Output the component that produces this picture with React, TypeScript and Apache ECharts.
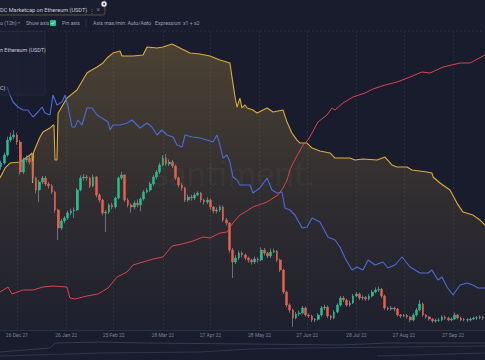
import React, { useEffect, useRef } from "react";
import * as echarts from "echarts";

// ---- x axis (days since 26 Dec 2021) ----
const tickDays = [0, 31, 61, 92, 122, 153, 183, 214, 244, 275];
const tickLabels = ["26 Dec 21", "26 Jan 22", "25 Feb 22", "28 Mar 22", "27 Apr 22", "28 May 22", "27 Jun 22", "28 Jul 22", "27 Aug 22", "27 Sep 22"];
const xMinDay = -10.72;
const xMaxDay = 295.17;

// ---- ETH candles (2-day, USD) ----
const candleStartDay = -10;
const candleStepDays = 2;
const candleFirstOpen = 3250;
const candleClose = [
  3305, 3425, 3650, 3695, 3725, 3620, 3170, 3350, 3380, 3320,
  3080, 2900, 3020, 3080, 2990, 2960, 2870, 2600, 2330, 2435,
  2480, 2555, 2585, 2600, 2900, 3080, 3095, 3080, 2960, 3095,
  2825, 2750, 2555, 2570, 2675, 2645, 2780, 3080, 3125, 2750,
  2675, 2645, 2705, 2675, 2765, 2870, 2900, 2990, 3095, 3170,
  3275, 3380, 3290, 3320, 3260, 3080, 2975, 2930, 2750, 2795,
  2780, 2825, 2855, 2750, 2720, 2750, 2645, 2585, 2600, 2645,
  2450, 2405, 2000, 1820, 1880, 1955, 1925, 1880, 1850, 1820,
  1865, 1850, 2000, 1955, 1910, 1970, 1985, 1850, 1700, 1370,
  1175, 1100, 980, 1040, 1055, 1130, 1025, 1010, 950, 960,
  1025, 1130, 1145, 1010, 980, 1070, 1175, 1280, 1250, 1175,
  1205, 1310, 1340, 1280, 1290, 1265, 1310, 1370, 1400, 1410,
  1310, 1130, 1115, 1130, 1115, 1025, 1010, 1020, 995, 950,
  1025, 1100, 1190, 1025, 995, 965, 935, 945, 950, 995,
  980, 950, 965, 1025, 980, 950, 955, 950, 965, 980,
  985, 995, 980, 990,
];
const candleLow = [
  3200, 3280, 3400, 3620, 3660, 3580, 3130, 3140, 3310, 3280,
  3040, 2850, 2720, 2990, 2960, 2920, 2840, 2560, 2150, 2300,
  2400, 2450, 2520, 2480, 2580, 2880, 3040, 3040, 2930, 2940,
  2790, 2710, 2520, 2270, 2540, 2610, 2620, 2760, 3050, 2720,
  2640, 2560, 2610, 2640, 2580, 2740, 2850, 2870, 2960, 3060,
  3140, 3250, 3260, 3260, 3230, 3050, 2940, 2890, 2720, 2720,
  2740, 2750, 2800, 2710, 2680, 2690, 2600, 2550, 2550, 2570,
  2420, 2370, 1960, 1580, 1790, 1850, 1890, 1850, 1810, 1780,
  1790, 1810, 1830, 1920, 1880, 1880, 1950, 1820, 1670, 1340,
  1140, 1060, 845, 960, 1010, 1030, 1000, 980, 920, 920,
  940, 1000, 1100, 980, 950, 960, 1050, 1150, 1220, 1150,
  1150, 1190, 1290, 1250, 1250, 1240, 1240, 1290, 1350, 1370,
  1280, 1100, 1090, 1090, 1080, 1000, 980, 990, 970, 920,
  930, 1000, 1080, 1000, 970, 940, 910, 910, 920, 930,
  950, 930, 930, 950, 960, 930, 930, 920, 930, 950,
  950, 960, 950, 960,
];
const candleHigh = [
  3340, 3460, 3700, 3760, 3800, 3760, 3650, 3390, 3420, 3410,
  3340, 3100, 3050, 3110, 3110, 3020, 2990, 2890, 2620, 2470,
  2510, 2590, 2620, 2640, 2930, 3120, 3140, 3130, 3100, 3130,
  3110, 2850, 2770, 2600, 2700, 2710, 2800, 3100, 3170, 3140,
  2780, 2700, 2740, 2760, 2790, 2900, 2930, 3020, 3130, 3200,
  3310, 3425, 3440, 3360, 3350, 3280, 3100, 3000, 2950, 2830,
  2830, 2860, 2880, 2870, 2770, 2790, 2770, 2660, 2640, 2670,
  2670, 2480, 2420, 2030, 1920, 1990, 1980, 1950, 1900, 1870,
  1900, 1890, 2040, 2030, 1970, 2020, 2020, 2000, 1870, 1720,
  1390, 1200, 1120, 1070, 1090, 1160, 1150, 1050, 1030, 980,
  1050, 1160, 1180, 1170, 1030, 1100, 1200, 1310, 1310, 1270,
  1240, 1340, 1370, 1360, 1320, 1310, 1340, 1400, 1440, 1450,
  1430, 1330, 1150, 1160, 1150, 1130, 1040, 1040, 1040, 1010,
  1050, 1130, 1250, 1210, 1040, 1010, 980, 970, 980, 1020,
  1020, 1000, 990, 1060, 1040, 1000, 980, 980, 990, 1000,
  1010, 1020, 1010, 1010,
];

// ---- USDC marketcap on Ethereum (billions) [day, value] ----
const usdcMarketcap = [
  [-10.7, 40.2], [-7.5, 40.87], [-4.4, 41.2], [1.9, 41.27], [8.2, 41.73], [9.5, 41.87],
  [9.8, 39.87], [10.4, 41.9], [14.5, 42.93], [16.4, 43.27], [20.8, 43.53], [22.7, 43.73],
  [23.3, 43.73], [24.0, 41.4], [25.2, 41.4], [25.9, 44.53], [27.1, 44.73], [31.5, 45.53],
  [37.8, 46.07], [44.1, 47.2], [46.0, 47.33], [50.5, 47.6], [54.2, 47.87], [56.8, 48.2],
  [60.5, 48.53], [65.0, 48.67], [66.2, 48.33], [73.2, 48.33], [79.5, 48.4], [82.0, 48.93],
  [88.3, 48.87], [92.1, 48.93], [97.8, 49.13], [102.8, 48.87], [109.1, 48.53], [115.4, 48.47],
  [121.7, 48.33], [128.0, 48.07], [134.3, 47.87], [135.6, 46.93], [137.5, 45.6], [138.8, 44.93],
  [140.6, 45.53], [141.9, 44.87], [143.8, 45.07], [145.1, 44.87], [148.8, 44.73], [151.4, 44.53],
  [157.7, 44.87], [161.5, 44.6], [167.8, 44.73], [170.3, 43.93], [173.4, 43.2], [176.6, 42.73],
  [178.5, 42.53], [182.9, 42.53], [186.1, 42.2], [191.1, 42.0], [197.4, 41.87], [200.6, 41.53],
  [210.0, 41.53], [213.2, 41.4], [218.2, 41.47], [227.1, 41.4], [232.1, 41.6], [236.5, 41.07],
  [239.7, 40.93], [246.0, 40.93], [249.1, 40.73], [258.6, 40.6], [261.7, 40.53], [262.4, 40.27],
  [266.8, 39.87], [273.1, 39.4], [277.5, 38.53], [281.3, 37.93], [287.6, 37.73], [292.0, 37.4],
  [295.2, 37.07],
];

// ---- second metric (blue) [day, value] ----
const blueMetric = [
  [-6.3, 2430], [-4.4, 2350], [-2.5, 2280], [0.6, 2230], [3.8, 2200], [6.9, 2200], [10.1, 2130],
  [13.2, 2180], [15.8, 2230], [17.7, 2170], [20.8, 2150], [22.7, 2350], [25.2, 2250], [28.4, 2280],
  [30.3, 2350], [32.2, 2230], [34.7, 2030], [36.6, 2030], [38.5, 2100], [41.0, 2050], [44.1, 2220],
  [47.3, 2220], [50.5, 2150], [53.6, 2120], [57.4, 2080], [58.7, 2000], [60.5, 2050], [65.0, 2050],
  [69.4, 2070], [72.5, 2100], [75.7, 2050], [77.6, 2020], [82.0, 2070], [85.1, 2030], [88.3, 1950],
  [91.4, 2000], [94.6, 1950], [98.4, 1930], [100.9, 1850], [104.1, 1830], [106.0, 1950], [110.4, 1930],
  [115.4, 1920], [119.8, 1900], [123.6, 1880], [126.1, 1950], [128.0, 1850], [129.9, 1720], [132.4, 1750],
  [134.3, 1680], [136.2, 1530], [138.8, 1500], [140.6, 1450], [147.0, 1450], [148.8, 1370], [153.2, 1420],
  [157.7, 1520], [160.8, 1400], [164.0, 1370], [167.1, 1380], [169.0, 1220], [172.2, 1200], [175.3, 1150],
  [179.8, 1020], [182.9, 1030], [186.1, 1120], [191.1, 1080], [196.1, 930], [200.6, 900], [203.7, 830],
  [206.9, 720], [211.3, 600], [214.4, 630], [218.2, 600], [221.4, 700], [225.8, 650], [230.8, 680],
  [234.0, 620], [238.4, 650], [242.8, 730], [247.9, 630], [254.2, 570], [259.2, 570], [261.7, 600],
  [265.5, 500], [268.0, 530], [271.2, 430], [275.0, 350], [279.4, 450], [283.8, 470], [287.6, 450],
  [290.8, 420], [295.2, 420],
];

// ---- third metric (red) [day, value] ----
const redMetric = [
  [-10.7, 76], [-5.7, 86], [-3.2, 72], [3.8, 80], [10.1, 80], [16.4, 86], [22.7, 88], [31.5, 86],
  [33.4, 64], [36.6, 62], [44.1, 68], [51.1, 72], [57.4, 84], [63.1, 106], [69.4, 116], [73.2, 130],
  [79.5, 136], [85.8, 142], [92.1, 146], [97.8, 168], [104.1, 172], [111.0, 178], [117.3, 186],
  [121.7, 184], [128.0, 194], [132.4, 196], [136.2, 214], [140.6, 230], [143.8, 236], [148.8, 246],
  [157.7, 256], [164.6, 270], [167.8, 284], [170.3, 300], [172.2, 320], [174.1, 334], [180.4, 370],
  [183.5, 380], [186.1, 394], [189.8, 416], [195.5, 430], [198.7, 444], [200.6, 440], [205.6, 454],
  [211.9, 466], [219.5, 474], [224.5, 482], [232.1, 490], [239.7, 496], [247.9, 506], [255.4, 516],
  [260.5, 514], [268.7, 526], [279.4, 534], [285.7, 534], [295.2, 550],
];

// ---- navigator overview lines ----
const navUpper = [[-10.7, 8], [20.8, 12], [24.0, 17], [52.3, 18], [79.5, 17], [147.0, 16], [203.7, 15], [233.4, 17], [295.2, 17]];
const navLower = [[-10.7, 4], [52.3, 7], [115.4, 8], [147.0, 11], [182.9, 12], [295.2, 14]];
const navThird = [[227.0, 4], [295.2, 7]];

const BG = "#191c2d";
const FONT = "Roboto, 'Noto Sans', sans-serif";

export default function App() {
  const ref = useRef<HTMLDivElement>(null);
  useEffect(() => {
    if (!ref.current) return;
    const chart = echarts.init(ref.current, undefined, { renderer: "svg" });

    const candles = candleClose.map((c, i) => ({
      day: candleStartDay + candleStepDays * i,
      o: i === 0 ? candleFirstOpen : candleClose[i - 1],
      c,
      l: candleLow[i],
      h: candleHigh[i],
    }));
    const wickData = candles.map((k) => [k.day, k.o, k.o, k.l, k.h]);
    const bodyData = candles.map((k) => [k.day, k.o, k.c, Math.min(k.o, k.c), Math.max(k.o, k.c)]);

    const hiddenY = (min: number, max: number, gridIndex = 0) => ({
      type: "value", gridIndex, min, max, show: false, splitLine: { show: false },
    });

    chart.setOption({
      animation: false,
      backgroundColor: BG,
      grid: [
        { left: 0, right: 0, top: 31, bottom: 30 },
        { left: 0, right: 0, top: 338, height: 22 },
      ],
      xAxis: [
        {
          type: "value", gridIndex: 0, min: xMinDay, max: xMaxDay,
          axisLine: { show: true, lineStyle: { color: "#2b3046", width: 1 } },
          axisTick: { show: false, customValues: tickDays },
          axisLabel: {
            customValues: tickDays, color: "#7d8297", fontSize: 5, margin: 2, fontFamily: FONT,
            formatter: (v: number) => tickLabels[tickDays.indexOf(v)] ?? "",
          },
          splitLine: { show: true, lineStyle: { color: "#252a3e", type: [2, 2], width: 1 } },
        },
        { type: "value", gridIndex: 1, min: xMinDay, max: xMaxDay, show: false, splitLine: { show: false } },
      ],
      yAxis: [
        hiddenY(800, 5285),
        hiddenY(30.07, 50),
        hiddenY(0, 2990),
        hiddenY(0, 598),
        hiddenY(0, 22, 1),
      ],
      series: [
        {
          type: "line", name: "USDC Marketcap on Ethereum", xAxisIndex: 0, yAxisIndex: 1,
          data: usdcMarketcap, showSymbol: false, symbol: "none", z: 1,
          lineStyle: { color: "#dcab3a", width: 1.1 },
          areaStyle: {
            origin: "start",
            color: new echarts.graphic.LinearGradient(0, 0, 0, 1, [
              { offset: 0, color: "rgba(214,170,70,0.38)" },
              { offset: 0.55, color: "rgba(214,170,70,0.17)" },
              { offset: 1, color: "rgba(214,170,70,0.04)" },
            ]),
          },
        },
        {
          type: "candlestick", name: "wicks", xAxisIndex: 0, yAxisIndex: 0, data: wickData,
          encode: { x: 0, y: [1, 2, 3, 4] }, barWidth: 0.8, z: 2,
          itemStyle: { color: "#7f849c", color0: "#7f849c", borderColor: "#7f849c", borderColor0: "#7f849c", borderWidth: 0.8 },
        },
        {
          type: "candlestick", name: "ETH", xAxisIndex: 0, yAxisIndex: 0, data: bodyData,
          encode: { x: 0, y: [1, 2, 3, 4] }, barWidth: 2.2, z: 3,
          itemStyle: { color: "#26c08d", color0: "#e5604b", borderColor: "#26c08d", borderColor0: "#e5604b", borderWidth: 0.5 },
        },
        {
          type: "line", name: "blue", xAxisIndex: 0, yAxisIndex: 2, data: blueMetric,
          showSymbol: false, symbol: "none", z: 4, lineStyle: { color: "#4a6bdb", width: 1.1 },
        },
        {
          type: "line", name: "red", xAxisIndex: 0, yAxisIndex: 3, data: redMetric,
          showSymbol: false, symbol: "none", z: 5, lineStyle: { color: "#d9454f", width: 1 },
        },
        {
          type: "line", xAxisIndex: 1, yAxisIndex: 4, data: navUpper, showSymbol: false, symbol: "none",
          lineStyle: { color: "#343a56", width: 1 },
        },
        {
          type: "line", xAxisIndex: 1, yAxisIndex: 4, data: navLower, showSymbol: false, symbol: "none",
          lineStyle: { color: "#2f3550", width: 1 },
        },
        {
          type: "line", xAxisIndex: 1, yAxisIndex: 4, data: navThird, showSymbol: false, symbol: "none",
          lineStyle: { color: "#2f3550", width: 1 },
        },
      ],
      graphic: [
        { type: "line", shape: { x1: 0, y1: 31, x2: 485, y2: 31 }, style: { stroke: "#252a3e", lineWidth: 1, lineDash: [2, 2] }, z: 1 },
        {
          type: "text", x: 230, y: 172, z: 2,
          style: { text: ".santiment.", fontSize: 35, fontFamily: "Lato, sans-serif", fill: "rgba(255,255,255,0.04)", align: "center", verticalAlign: "middle" },
        },
        // top label box
        { type: "rect", shape: { x: -6, y: -4, width: 111, height: 19, r: 2 }, style: { fill: "#1b1e2f", stroke: "#5a5135", lineWidth: 1 }, z: 10 },
        { type: "text", x: 0, y: 10, z: 11, style: { text: "DC Marketcap on Ethereum (USDT)", fontSize: 5.6, fill: "#c8cbd7", fontFamily: FONT, verticalAlign: "middle" } },
        { type: "text", x: 88.5, y: 10, z: 11, style: { text: "⋮", fontSize: 6, fill: "#6f7489", fontFamily: FONT, verticalAlign: "middle" } },
        { type: "text", x: 96.5, y: 10, z: 11, style: { text: "×", fontSize: 6.5, fill: "#6f7489", fontFamily: FONT, verticalAlign: "middle" } },
        { type: "circle", shape: { cx: 104, cy: 4, r: 2.8 }, style: { fill: "#e9eaf0" }, z: 12 },
        { type: "circle", shape: { cx: 104, cy: 4, r: 1 }, style: { fill: "#3a3e52" }, z: 13 },
        // toolbar row
        { type: "text", x: 0, y: 23, z: 11, style: { text: "o (12h)", fontSize: 5.2, fill: "#9aa0b3", fontFamily: FONT, verticalAlign: "middle" } },
        { type: "polyline", shape: { points: [[17.5, 22], [18.8, 23.3], [20.1, 22]] }, style: { stroke: "#9aa0b3", lineWidth: 0.6, fill: "none" }, z: 11 },
        { type: "text", x: 26, y: 23, z: 11, style: { text: "Show axis", fontSize: 5.2, fill: "#9aa0b3", fontFamily: FONT, verticalAlign: "middle" } },
        { type: "rect", shape: { x: 50, y: 20, width: 6, height: 6, r: 1 }, style: { fill: "#26c08d" }, z: 11 },
        { type: "polyline", shape: { points: [[51.5, 23], [52.6, 24.2], [54.6, 21.8]] }, style: { stroke: "#ffffff", lineWidth: 0.7, fill: "none" }, z: 12 },
        { type: "text", x: 62, y: 23, z: 11, style: { text: "Pin axis", fontSize: 5.2, fill: "#9aa0b3", fontFamily: FONT, verticalAlign: "middle" } },
        { type: "line", shape: { x1: 86, y1: 19, x2: 86, y2: 27 }, style: { stroke: "#343950", lineWidth: 0.8 }, z: 11 },
        { type: "text", x: 93, y: 23, z: 11, style: { text: "Axis max/min: Auto/Auto", fontSize: 5.2, fill: "#9aa0b3", fontFamily: FONT, verticalAlign: "middle" } },
        { type: "polyline", shape: { points: [[145, 22], [146.3, 23.3], [147.6, 22]] }, style: { stroke: "#9aa0b3", lineWidth: 0.6, fill: "none" }, z: 11 },
        { type: "text", x: 155, y: 23, z: 11, style: { text: "Expression: x1 + x2", fontSize: 5.2, fill: "#9aa0b3", fontFamily: FONT, verticalAlign: "middle" } },
        // legend panel
        { type: "rect", shape: { x: -3, y: 31.5, width: 48, height: 63.5, r: 2 }, style: { fill: "rgba(30,34,52,0.55)", stroke: "#2a2f45", lineWidth: 0.8 }, z: 10 },
        { type: "text", x: 0, y: 49.5, z: 11, style: { text: "n Ethereum (USDT)", fontSize: 5.4, fill: "#c4c7d3", fontFamily: FONT, verticalAlign: "middle" } },
        { type: "text", x: 0, y: 88, z: 11, style: { text: "C)", fontSize: 5.4, fill: "#c4c7d3", fontFamily: FONT, verticalAlign: "middle" } },
      ],
    });
    return () => chart.dispose();
  }, []);
  return <div ref={ref} style={{ position: "fixed", left: 0, top: 0, width: 485, height: 360 }} />;
}
